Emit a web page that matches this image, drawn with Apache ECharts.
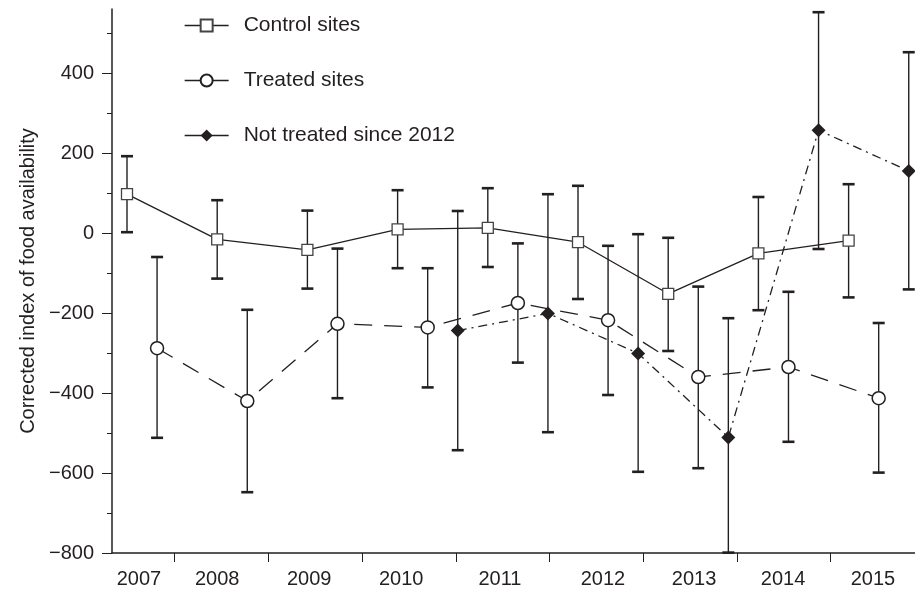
<!DOCTYPE html>
<html><head><meta charset="utf-8">
<script src="https://cdn.jsdelivr.net/npm/echarts@6/dist/echarts.min.js"></script>
<style>html,body{margin:0;padding:0;background:#fff}#c{width:915px;height:589px}</style>
</head><body><div id="c"></div>
<script>
// ---- data ----
const years = ['2007','2008','2009','2010','2011','2012','2013','2014','2015'];
const controlMean = [97, -16, -42, 9, 13, -23, -152, -51, -19];
const controlLow  = [2, -114, -139, -88, -85, -165, -295, -193, -161];
const controlHigh = [192, 82, 56, 107, 112, 118, -12, 90, 122];
const treatedMean = [-288, -420, -227, -236, -175, -218, -360, -335, -413];
const treatedLow  = [-512, -648, -413, -386, -324, -405, -588, -522, -599];
const treatedHigh = [-60, -192, -39, -88, -26, -32, -134, -147, -225];
const notTreatedYears = ['2010','2011','2012','2013','2014','2015'];
const notTreatedMean = [-244, -201, -301, -511, 257, 155];
const notTreatedLow  = [-543, -498, -597, -799, -40, -141];
const notTreatedHigh = [55, 97, -3, -213, 552, 452];
const yMajorTicks = [-800, -600, -400, -200, 0, 200, 400];
const yMinorTicks = [-700, -500, -300, -100, 100, 300, 500];

// ---- layout (positions on the year axis) ----
const seriesOffset = {control: 0, treated: 1/3, notTreated: 2/3};
const xTickPos = [0.521, 1.563, 2.605, 3.647, 4.678, 5.721, 6.763, 7.794];
const xLabelPos = [0.133, 1.0, 2.02, 3.04, 4.135, 5.277, 6.286, 7.273, 8.27];

const ink = '#231f20';
const font = 'Liberation Sans, Arial, Helvetica, sans-serif';

function pts(yrs, vals, off) { return yrs.map((y, i) => [years.indexOf(y) + off, vals[i]]); }
function bars(yrs, lo, hi, off) { return yrs.map((y, i) => [years.indexOf(y) + off, lo[i], hi[i]]); }

const errData = []
  .concat(bars(years, controlLow, controlHigh, seriesOffset.control))
  .concat(bars(years, treatedLow, treatedHigh, seriesOffset.treated))
  .concat(bars(notTreatedYears, notTreatedLow, notTreatedHigh, seriesOffset.notTreated));

function errRender(params, api) {
  const x = api.value(0), lo = api.value(1), hi = api.value(2);
  const a = api.coord([x, lo]), b = api.coord([x, hi]);
  const hw = 6;
  return {type: 'group', children: [
    {type: 'line', shape: {x1: a[0], y1: a[1], x2: b[0], y2: b[1]}, style: {stroke: ink, lineWidth: 1.4}},
    {type: 'line', shape: {x1: b[0]-hw, y1: b[1], x2: b[0]+hw, y2: b[1]}, style: {stroke: ink, lineWidth: 2.6}},
    {type: 'line', shape: {x1: a[0]-hw, y1: a[1], x2: a[0]+hw, y2: a[1]}, style: {stroke: ink, lineWidth: 2.6}}
  ]};
}

const chart = echarts.init(document.getElementById('c'), null, {renderer: 'canvas'});
chart.setOption({
  animation: false,
  backgroundColor: '#fff',
  textStyle: {fontFamily: font, color: ink},
  grid: {left: 112, right: 0, top: 9, bottom: 36},
  legend: {
    orient: 'vertical', left: 179, top: 10, itemWidth: 44, itemHeight: 15, itemGap: 34,
    data: ['Control sites', 'Treated sites', 'Not treated since 2012'],
    textStyle: {fontSize: 21, color: ink, fontFamily: font, padding: [0, 0, 0, 10]},
    lineStyle: {type: 'solid', width: 1.3, color: ink}
  },
  xAxis: {
    type: 'value', min: -0.1663, max: 8.736,
    splitLine: {show: false},
    axisLine: {show: true, onZero: false, lineStyle: {color: ink, width: 1.5}},
    axisTick: {show: true, customValues: xTickPos, length: 9, inside: false, lineStyle: {color: ink, width: 1}},
    axisLabel: {
      customValues: xLabelPos, margin: 16, fontSize: 20, color: ink, fontFamily: font,
      formatter: function (v) {
        let best = 0, d = 1e9;
        xLabelPos.forEach((p, i) => { if (Math.abs(p - v) < d) { d = Math.abs(p - v); best = i; } });
        return years[best];
      }
    }
  },
  yAxis: [{
    type: 'value', min: -800, max: 560,
    name: 'Corrected index of food availability', nameLocation: 'middle', nameGap: 62, nameRotate: 90,
    nameTextStyle: {fontSize: 20, color: ink, fontFamily: font},
    splitLine: {show: false},
    axisLine: {show: true, onZero: false, lineStyle: {color: ink, width: 1.5}},
    axisTick: {show: true, customValues: yMajorTicks, length: 10, inside: false, lineStyle: {color: ink, width: 1}},
    axisLabel: {customValues: yMajorTicks, margin: 18, fontSize: 20, color: ink, fontFamily: font,
      formatter: v => (v < 0 ? '\u2212' + Math.abs(v) : String(v))}
  }, {
    type: 'value', min: -800, max: 560, position: 'left',
    splitLine: {show: false},
    axisLine: {show: false, onZero: false},
    axisTick: {show: true, customValues: yMinorTicks, length: 5, inside: false, lineStyle: {color: ink, width: 1}},
    axisLabel: {show: false}
  }],
  series: [
    {type: 'custom', name: 'err', z: 1, renderItem: errRender, data: errData, encode: {x: 0, y: [1, 2]}, silent: true},
    {type: 'line', name: 'Control sites', z: 3, data: pts(years, controlMean, seriesOffset.control),
      symbol: 'rect', symbolSize: 11,
      lineStyle: {color: ink, width: 1.3, type: 'solid'},
      itemStyle: {color: '#fff', borderColor: '#444', borderWidth: 1.3}},
    {type: 'line', name: 'Treated sites', z: 3, data: pts(years, treatedMean, seriesOffset.treated),
      symbol: 'circle', symbolSize: 13,
      lineStyle: {color: ink, width: 1.3, type: [18, 12]},
      itemStyle: {color: '#fff', borderColor: ink, borderWidth: 1.5}},
    {type: 'line', name: 'Not treated since 2012', z: 3, data: pts(notTreatedYears, notTreatedMean, seriesOffset.notTreated),
      symbol: 'diamond', symbolSize: 14,
      lineStyle: {color: ink, width: 1.3, type: [9, 5, 2, 5]},
      itemStyle: {color: ink, borderColor: ink, borderWidth: 0}}
  ]
});
</script>
</body></html>
